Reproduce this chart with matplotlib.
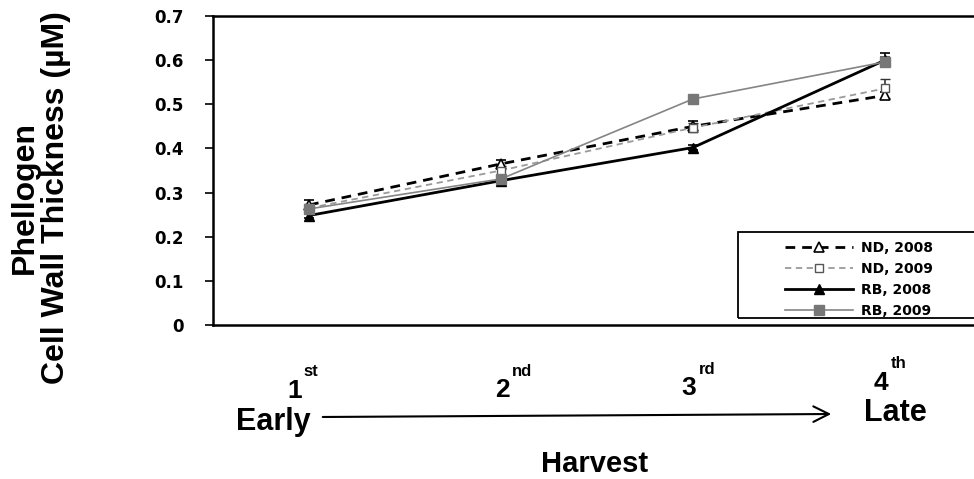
import matplotlib.pyplot as plt
from matplotlib.patches import Rectangle, FancyArrowPatch

W, H = 974, 479

harvest = [1, 2, 3, 4]
nd_2008 = [0.272, 0.365, 0.450, 0.520]
nd_2009 = [0.265, 0.350, 0.447, 0.536]
rb_2008 = [0.248, 0.327, 0.402, 0.600]
rb_2009 = [0.263, 0.331, 0.512, 0.596]
nd_2008_err = [0.012, 0.008, 0.012, 0.008]
nd_2009_err = [0.008, 0.010, 0.010, 0.022]
rb_2008_err = [0.006, 0.006, 0.006, 0.016]
rb_2009_err = [0.006, 0.006, 0.006, 0.010]
yticks = [0, 0.1, 0.2, 0.3, 0.4, 0.5, 0.6, 0.7]
ytick_labels = ['0', '0.1', '0.2', '0.3', '0.4', '0.5', '0.6', '0.7']
ordinals = [('1', 'st'), ('2', 'nd'), ('3', 'rd'), ('4', 'th')]


def fx(px):
    return px / W


def fy(py):
    return 1 - py / H


fig = plt.figure(figsize=(9.74, 4.79), dpi=100)
ax = fig.add_axes([fx(213), fy(325), 1 - fx(213), fy(16) - fy(325)])

err_kw = dict(capsize=3.5, elinewidth=1.2, capthick=1.2)
ax.errorbar(harvest, nd_2008, yerr=nd_2008_err, color='black', ls=(0, (3.5, 2.5)), lw=2.0,
            marker='^', ms=6.5, mfc='white', mec='black', mew=1.2, label='ND, 2008', **err_kw)
ax.errorbar(harvest, nd_2009, yerr=nd_2009_err, color='#9a9a9a', ls=(0, (3.5, 2.5)), lw=1.3,
            marker='s', ms=6, mfc='white', mec='#555555', mew=1.0, ecolor='#333333',
            label='ND, 2009', **err_kw)
ax.errorbar(harvest, rb_2008, yerr=rb_2008_err, color='black', ls='-', lw=2.0,
            marker='^', ms=6.5, mfc='black', mec='black', label='RB, 2008', **err_kw)
ax.errorbar(harvest, rb_2009, yerr=rb_2009_err, color='#858585', ls='-', lw=1.2,
            marker='s', ms=6.5, mfc='#777777', mec='#777777', ecolor='#444444',
            label='RB, 2009', **err_kw)

ax.set_xlim(0.5, 4.4635)
ax.set_ylim(0, 0.7)
ax.set_xticks([])
ax.set_yticks(yticks)
ax.set_yticklabels(ytick_labels, fontfamily='DejaVu Sans', fontweight='bold', fontsize=12)
ax.tick_params(axis='y', length=6, width=1.2, pad=15, direction='out')
for side in ['left', 'top', 'bottom']:
    ax.spines[side].set_linewidth(1.8)
ax.spines['right'].set_visible(False)

# legend, frame drawn separately so it runs off the right edge
fig.patches.append(Rectangle((fx(738), fy(318)), 0.3, fy(232) - fy(318), transform=fig.transFigure,
                             fill=False, edgecolor='black', lw=1.3, zorder=5))
handles, labels = ax.get_legend_handles_labels()
handles = [h[0] for h in handles]
fig.legend(handles, labels, loc='upper left', bbox_to_anchor=(fx(778), fy(234)), frameon=False,
           prop=dict(family='DejaVu Sans', weight='bold', size=10),
           handlelength=4.9, handletextpad=0.6, labelspacing=0.5, borderpad=0)

font = 'Liberation Sans'
fig.text(fx(40), fy(198), 'Phellogen\nCell Wall Thickness (\u00b5M)', rotation=90,
         ha='center', va='center', ma='center', fontsize=23, fontweight='bold',
         family=font, linespacing=1.05)

num_x = [295, 502, 689, 881]
num_y = [391, 390, 388, 383]
sup_x = [303, 512, 699, 891]
for (num, sup), x, y, sx in zip(ordinals, num_x, num_y, sup_x):
    fig.text(fx(x), fy(y), num, ha='center', va='center', fontsize=19, fontweight='bold', family=font)
    fig.text(fx(sx), fy(y - 19), sup, ha='left', va='center', fontsize=12, fontweight='bold', family=font)

fig.text(fx(273), fy(422), 'Early', ha='center', va='center', fontsize=22, fontweight='bold', family=font)
fig.text(fx(895), fy(413), 'Late', ha='center', va='center', fontsize=22, fontweight='bold', family=font)
fig.text(fx(595), fy(464), 'Harvest', ha='center', va='center', fontsize=21, fontweight='bold', family=font)
fig.add_artist(FancyArrowPatch(
    (fx(320), fy(417)), (fx(834), fy(414)), transform=fig.transFigure,
    arrowstyle='->', mutation_scale=28, lw=1.5, color='black'))

fig.savefig('out.png', dpi=100, facecolor='white')
